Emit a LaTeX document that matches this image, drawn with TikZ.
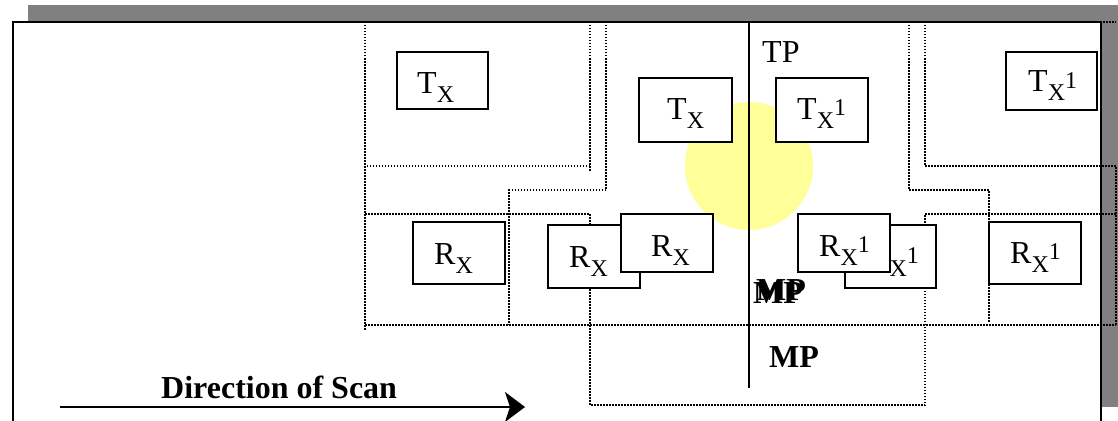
\documentclass[tikz,border=0pt]{standalone}
\usepackage{fontspec}
\setmainfont{Liberation Serif}
\usetikzlibrary{arrows.meta}
\definecolor{shadowgray}{HTML}{808080}
\definecolor{spotyellow}{HTML}{FFFF99}
\newcommand{\lsub}[1]{\raisebox{-9pt}{\fontsize{24}{24}\selectfont #1}}
\newcommand{\lsup}[1]{\raisebox{4pt}{\fontsize{24}{24}\selectfont #1}}
\begin{document}
\begin{tikzpicture}[x=1pt,y=-1pt,
  region/.style={line width=1.5pt, dash pattern=on 1.5pt off 1.5pt},
  sensor/.style={draw, line width=2pt, fill=white, inner sep=0pt},
  lbl/.style={anchor=base west, inner sep=0pt, font=\fontsize{32}{38}\selectfont},
  blbl/.style={anchor=base west, inner sep=0pt, font=\fontsize{32}{38}\selectfont\bfseries}]
\useasboundingbox (0,0) rectangle (1118,420);
\clip (0,0) rectangle (1118,420);
% shadow and frame
\fill[shadowgray] (28,5) rectangle (1118,407);
\draw[line width=2pt, fill=white] (13,22) rectangle (1101,424);
% dotted regions
\draw[region] (365,22) -- (1116,22);
\draw[region] (365,22) -- (365,330);
\draw[region] (590,22) -- (590,171);
\draw[region] (590,166) -- (365,166);
\draw[region] (606,22) -- (606,190) -- (509,190) -- (509,325);
\draw[region] (365,214) -- (590,214) -- (590,405) -- (925,405) -- (925,214) -- (1116,214);
\draw[region] (909,22) -- (909,190) -- (989,190) -- (989,323);
\draw[region] (925,22) -- (925,166) -- (1116,166) -- (1116,325);
\draw[region] (365,325) -- (1116,325);
% spot
\fill[spotyellow] (749,166) circle (64);
% transmitter boxes
\node[sensor, minimum width=91pt, minimum height=57pt] (tl) at (442.5,80.5) {};
\node[lbl] (tlL) at (417,93) {T\lsub{X}};
\node[sensor, minimum width=93pt, minimum height=64pt] (tm) at (685.5,110) {};
\node[lbl] (tmL) at (667,119) {T\lsub{X}};
\node[sensor, minimum width=92pt, minimum height=64pt] (tm1) at (822,110) {};
\node[lbl] (tm1L) at (797,119) {T\lsub{X}\lsup{1}};
\node[sensor, minimum width=91pt, minimum height=58pt] (tr1) at (1051.5,81) {};
\node[lbl] (tr1L) at (1028,92) {T\lsub{X}\lsup{1}};
% receiver boxes
\node[sensor, minimum width=92pt, minimum height=62pt] (rl) at (459,253) {};
\node[lbl] (rlL) at (434,264) {R\lsub{X}};
\node[sensor, minimum width=92pt, minimum height=63pt] (rmb) at (594,256.5) {};
\node[lbl] (rmbL) at (569,267) {R\lsub{X}};
\node[sensor, minimum width=92pt, minimum height=58pt] (rmf) at (667,243) {};
\node[lbl] (rmfL) at (651,256) {R\lsub{X}};
\node[sensor, minimum width=91pt, minimum height=63pt] (rm1b) at (890.5,256.5) {};
\node[lbl] (rm1bL) at (868,267) {R\lsub{X}\lsup{1}};
\node[sensor, minimum width=92pt, minimum height=58pt] (rm1f) at (844,243) {};
\node[lbl] (rm1fL) at (819,256) {R\lsub{X}\lsup{1}};
\node[sensor, minimum width=92pt, minimum height=62pt] (rr1) at (1035,253) {};
\node[lbl] (rr1L) at (1010,263) {R\lsub{X}\lsup{1}};
% centre line
\coordinate (lt) at (749,22);
\coordinate (lb) at (749,388);
\draw[line width=2.5pt] (lt) -- (lb);
% labels
\node[lbl] (tp) at (762,63) {TP};
\node[blbl] (mpa) at (753,303) {MP};
\node[blbl] (mpb) at (756,300) {MP};
\node[blbl] (mp) at (769,367) {MP};
\node[blbl] (dir) at (161,398) {Direction of Scan};
% scan arrow
\coordinate (as) at (60,407);
\coordinate (ae) at (525,407);
\draw[line width=2pt, -{Stealth[length=20pt,width=30pt,inset=5pt]}] (as) -- (ae);
\end{tikzpicture}
\end{document}
